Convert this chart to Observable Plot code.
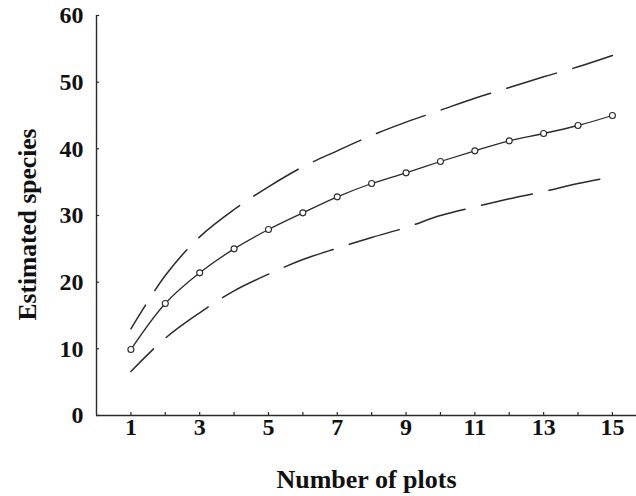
<!DOCTYPE html>
<html>
<head>
<meta charset="utf-8">
<script src="https://cdn.jsdelivr.net/npm/d3@7"></script>
<script src="https://cdn.jsdelivr.net/npm/@observablehq/plot@0.6"></script>
<style>
  html, body { margin: 0; padding: 0; background: #fff; }
</style>
</head>
<body>
<div id="chart"></div>
<script>
const plots = [1, 2, 3, 4, 5, 6, 7, 8, 9, 10, 11, 12, 13, 14, 15];
const estimated = [9.9, 16.8, 21.4, 25.0, 27.9, 30.4, 32.8, 34.8, 36.4, 38.1, 39.7, 41.2, 42.3, 43.5, 45.0];
const upper = [13.0, 21.0, 26.8, 30.9, 34.3, 37.3, 39.7, 42.0, 44.0, 45.8, 47.6, 49.2, 50.8, 52.3, 54.0];
const lower = [6.6, 11.6, 15.4, 18.7, 21.2, 23.4, 25.1, 26.7, 28.2, 30.0, 31.3, 32.5, 33.6, 34.8, 35.8];
const xTickLabels = [1, 3, 5, 7, 9, 11, 13, 15];
const yTicks = [0, 10, 20, 30, 40, 50, 60];
const xLabel = "Number of plots";
const yLabel = "Estimated species";

const rows = plots.map((p, i) => ({p, est: estimated[i], up: upper[i], lo: lower[i]}));

const ink = "#2a2a2a";
const chart = Plot.plot({
  width: 636,
  height: 496,
  marginLeft: 96,
  marginRight: 0,
  marginTop: 15,
  marginBottom: 81,
  style: {fontFamily: "'Liberation Serif', 'Times New Roman', serif", fontWeight: "bold", fontSize: "24px", color: "#111", background: "#fff"},
  x: {domain: [0, 15.7]},
  y: {domain: [0, 60]},
  marks: [
    Plot.axisX({ticks: xTickLabels, tickSize: 0, tickPadding: 2, label: null, fontSize: 24}),
    Plot.axisY({ticks: yTicks, tickSize: 0, tickPadding: 13, label: null, fontSize: 24}),
    Plot.text([xLabel], {text: d => d, frameAnchor: "bottom", textAnchor: "middle", dy: 64, lineAnchor: "middle", fontSize: 26, fill: "#111"}),
    Plot.text([yLabel], {text: d => d, frameAnchor: "left", textAnchor: "middle", dx: -69, dy: 9, rotate: -90, lineAnchor: "middle", fontSize: 25.5, fill: "#111"}),
    Plot.ruleX(plots, {x: d => d, y1: 0, y2: 0.45, stroke: ink, strokeWidth: 1.2}),
    Plot.ruleY(yTicks, {y: d => d, x1: 0, x2: 0.09, stroke: ink, strokeWidth: 1.2}),
    Plot.ruleX([0], {stroke: ink, strokeWidth: 1.4}),
    Plot.ruleY([0], {stroke: ink, strokeWidth: 1.4}),
    Plot.line(rows, {x: "p", y: "up", curve: "catmull-rom", stroke: ink, strokeWidth: 1.5, strokeDasharray: "52,17", strokeDashoffset: 24}),
    Plot.line(rows, {x: "p", y: "lo", curve: "catmull-rom", stroke: ink, strokeWidth: 1.5, strokeDasharray: "52,17", strokeDashoffset: 20}),
    Plot.line(rows, {x: "p", y: "est", curve: "catmull-rom", stroke: ink, strokeWidth: 1.3}),
    Plot.dot(rows, {x: "p", y: "est", r: 3, stroke: ink, fill: "#fff", strokeWidth: 1.1})
  ]
});
document.getElementById("chart").appendChild(chart);
</script>
</body>
</html>
